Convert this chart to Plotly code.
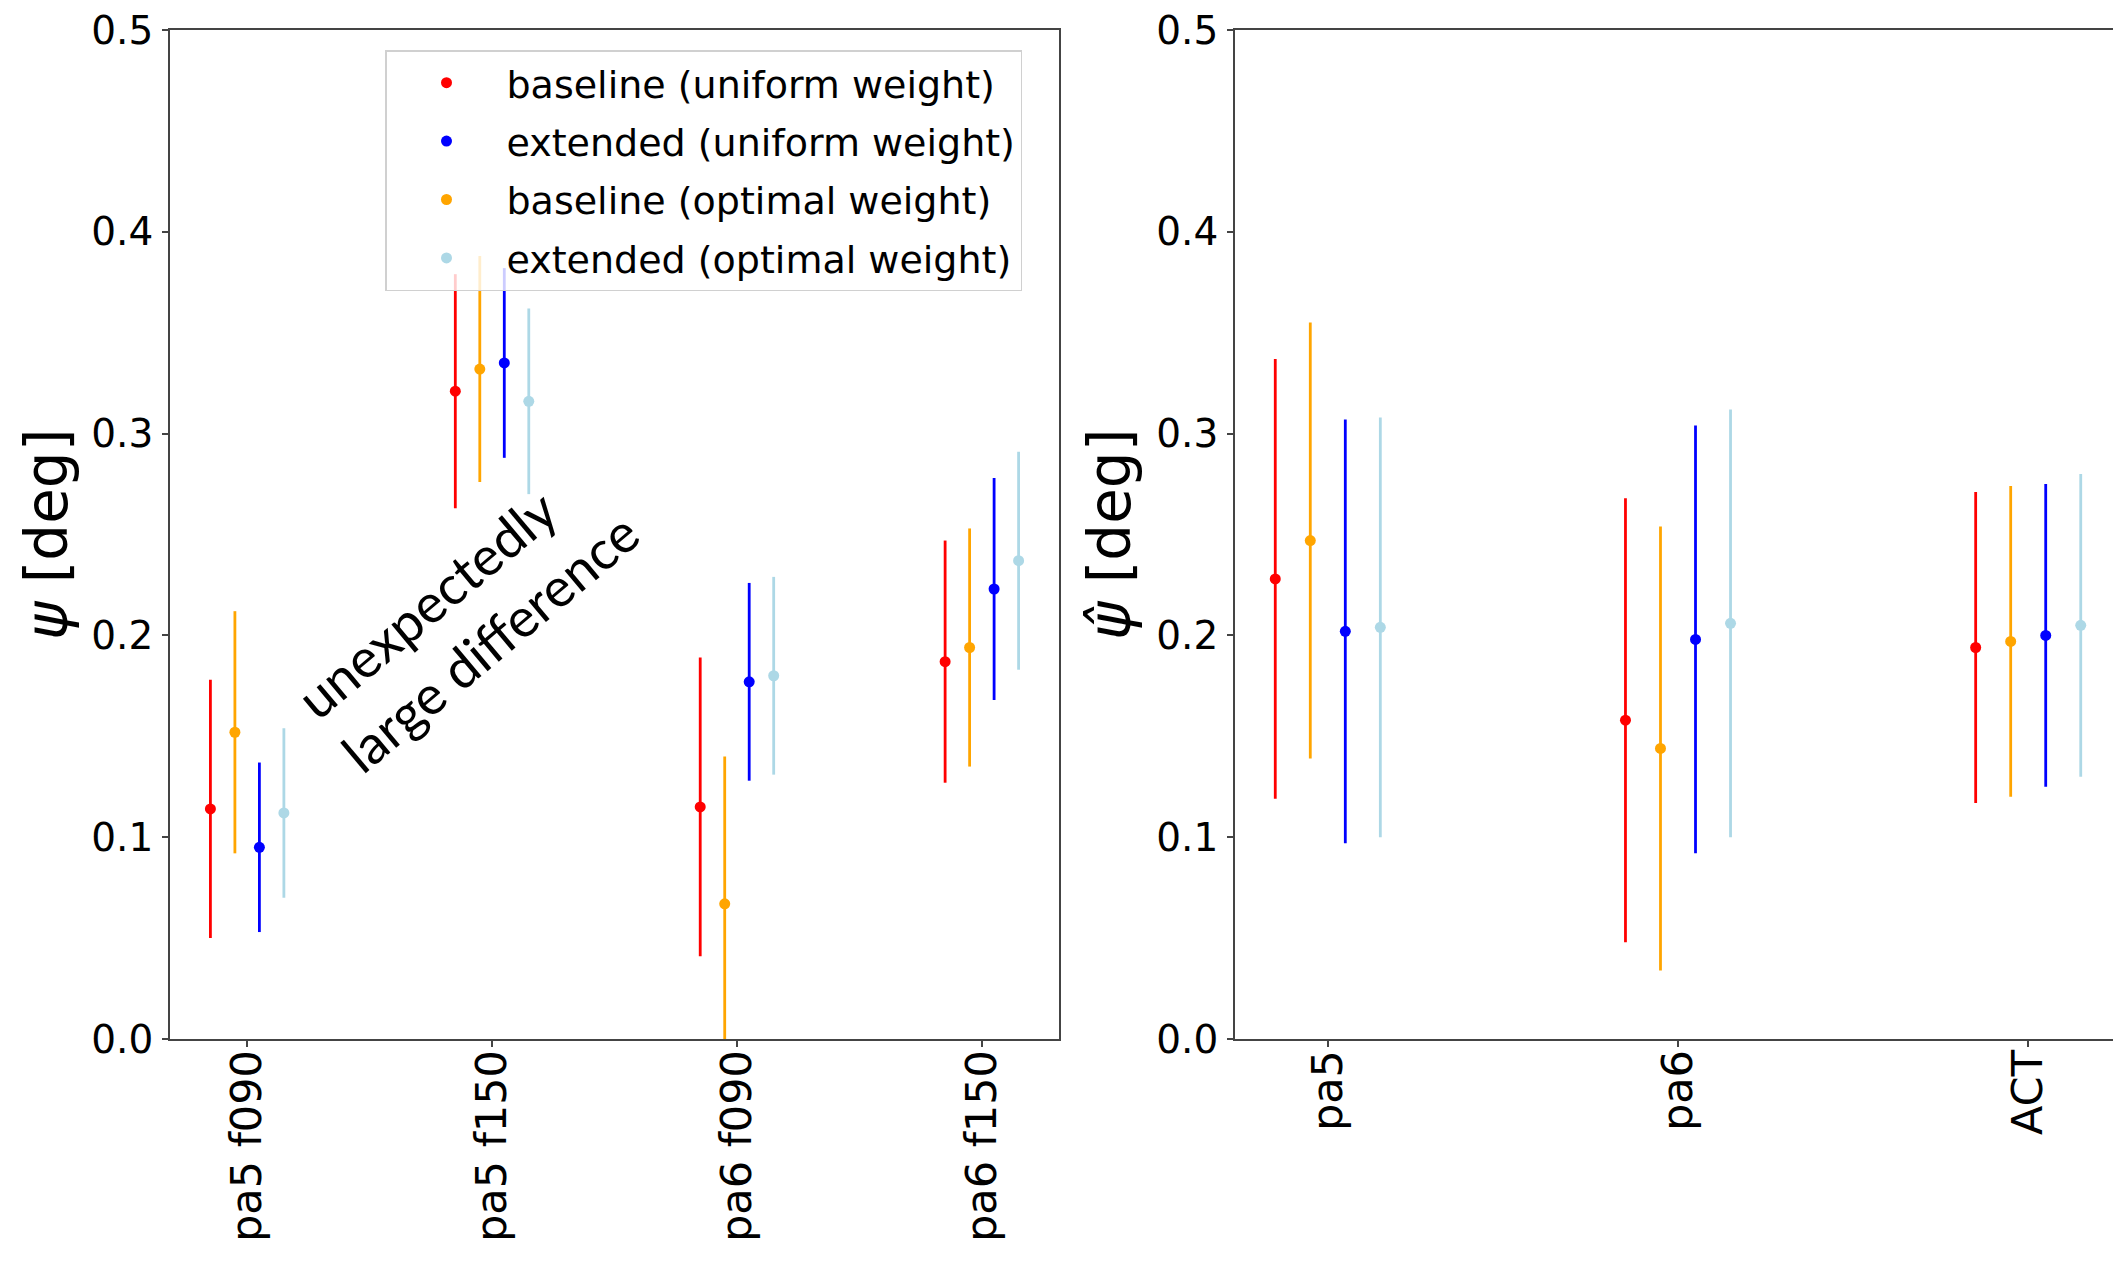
import plotly.graph_objects as go

# ---------------- data ----------------
left_categories = ["pa5 f090", "pa5 f150", "pa6 f090", "pa6 f150"]
right_categories = ["pa5", "pa6", "ACT"]

series_names = [
    "baseline (uniform weight)",
    "extended (uniform weight)",
    "baseline (optimal weight)",
    "extended (optimal weight)",
]

baseline_uniform_left = [0.114, 0.321, 0.115, 0.187]
baseline_uniform_left_err = [0.064, 0.058, 0.074, 0.060]
extended_uniform_left = [0.095, 0.335, 0.177, 0.223]
extended_uniform_left_err = [0.042, 0.047, 0.049, 0.055]
baseline_optimal_left = [0.152, 0.332, 0.067, 0.194]
baseline_optimal_left_err = [0.060, 0.056, 0.073, 0.059]
extended_optimal_left = [0.112, 0.316, 0.180, 0.237]
extended_optimal_left_err = [0.042, 0.046, 0.049, 0.054]

baseline_uniform_right = [0.228, 0.158, 0.194]
baseline_uniform_right_err = [0.109, 0.110, 0.077]
extended_uniform_right = [0.202, 0.198, 0.200]
extended_uniform_right_err = [0.105, 0.106, 0.075]
baseline_optimal_right = [0.247, 0.144, 0.197]
baseline_optimal_right_err = [0.108, 0.110, 0.077]
extended_optimal_right = [0.204, 0.206, 0.205]
extended_optimal_right_err = [0.104, 0.106, 0.075]

y_ticks = [0.0, 0.1, 0.2, 0.3, 0.4, 0.5]

# ---------------- style ----------------
colors = ["red", "blue", "orange", "lightblue"]
offsets = [-0.15, 0.05, -0.05, 0.15]
FONT = "DejaVu Sans"
# page body has an 8px margin, so the figure is 8px smaller than the window
W, H = 2113, 1254
OFF = 8

left_vals = [
    (baseline_uniform_left, baseline_uniform_left_err),
    (extended_uniform_left, extended_uniform_left_err),
    (baseline_optimal_left, baseline_optimal_left_err),
    (extended_optimal_left, extended_optimal_left_err),
]
right_vals = [
    (baseline_uniform_right, baseline_uniform_right_err),
    (extended_uniform_right, extended_uniform_right_err),
    (baseline_optimal_right, baseline_optimal_right_err),
    (extended_optimal_right, extended_optimal_right_err),
]

fig = go.Figure()

for i in range(4):
    y, e = left_vals[i]
    fig.add_trace(go.Scatter(
        x=[k + offsets[i] for k in range(len(left_categories))],
        y=y,
        error_y=dict(type="data", array=e, visible=True, color=colors[i],
                     thickness=2.8, width=0),
        mode="markers",
        marker=dict(color=colors[i], size=11),
        name=series_names[i],
        xaxis="x", yaxis="y",
        legendgroup=str(i),
    ))

for i in range(4):
    y, e = right_vals[i]
    fig.add_trace(go.Scatter(
        x=[k + offsets[i] for k in range(len(right_categories))],
        y=y,
        error_y=dict(type="data", array=e, visible=True, color=colors[i],
                     thickness=2.8, width=0),
        mode="markers",
        marker=dict(color=colors[i], size=11),
        name=series_names[i],
        xaxis="x2", yaxis="y2",
        showlegend=False,
        legendgroup=str(i),
    ))


def px_x(px):
    return (px - OFF) / W


def px_y(py):
    return (H - (py - OFF)) / H


y_bot = px_y(1039)
y_top = px_y(30)

axis_common = dict(
    showline=True, linecolor="#444", linewidth=1.8,
    ticks="outside", ticklen=6, tickwidth=1.5, tickcolor="#444",
    showgrid=False, zeroline=False, automargin=False,
    ticklabeloverflow="allow",
)
xtickfont = dict(family=FONT, size=43, color="black")
ytickfont = dict(family=FONT, size=39, color="black")

fig.update_layout(
    width=W, height=H,
    margin=dict(l=0, r=0, t=0, b=0, autoexpand=False),
    paper_bgcolor="white", plot_bgcolor="white",
    font=dict(family=FONT, color="black"),
    xaxis=dict(domain=[px_x(170), px_x(1059)], anchor="y",
               range=[-0.315, len(left_categories) - 1 + 0.315],
               tickvals=list(range(len(left_categories))),
               ticktext=left_categories, tickangle=-90, mirror=True,
               tickfont=xtickfont, ticklabelstandoff=-14, **axis_common),
    yaxis=dict(domain=[y_bot, y_top], anchor="x", range=[0, 0.5],
               tickvals=y_ticks, tickformat=".1f", mirror=True,
               tickfont=ytickfont, ticklabelstandoff=1, **axis_common),
    xaxis2=dict(domain=[px_x(1235), 1.0], anchor="y2",
                range=[-0.265, len(right_categories) - 1 + 0.265],
                tickvals=list(range(len(right_categories))),
                ticktext=right_categories, tickangle=-90, mirror=True,
                tickfont=xtickfont, ticklabelstandoff=-14, **axis_common),
    yaxis2=dict(domain=[y_bot, y_top], anchor="x2", range=[0, 0.5],
                tickvals=y_ticks, tickformat=".1f", mirror=False,
                tickfont=ytickfont, ticklabelstandoff=1, **axis_common),
    legend=dict(
        x=px_x(385), y=px_y(50), xanchor="left", yanchor="top",
        bgcolor="rgba(255,255,255,0.8)", bordercolor="#d0d0d0", borderwidth=1.5,
        font=dict(family=FONT, size=38, color="black"),
        tracegroupgap=6, itemwidth=110,
    ),
    showlegend=True,
)

fig.add_annotation(
    text="<i>ψ</i> [deg]", xref="paper", yref="paper",
    x=px_x(47), y=px_y(535), xanchor="center", yanchor="middle",
    textangle=-90, showarrow=False,
    font=dict(family=FONT, size=58, color="black"),
)
fig.add_annotation(
    text="<i>ψ̂</i> [deg]", xref="paper", yref="paper",
    x=px_x(1110), y=px_y(535), xanchor="center", yanchor="middle",
    textangle=-90, showarrow=False,
    font=dict(family=FONT, size=58, color="black"),
)
fig.add_annotation(
    text="unexpectedly<br>large difference", xref="x", yref="y",
    x=0.898, y=0.210, xanchor="center", yanchor="middle",
    textangle=-40, showarrow=False, align="left",
    font=dict(family="Lato", size=54, color="black"),
)

fig.write_html("out.html")
